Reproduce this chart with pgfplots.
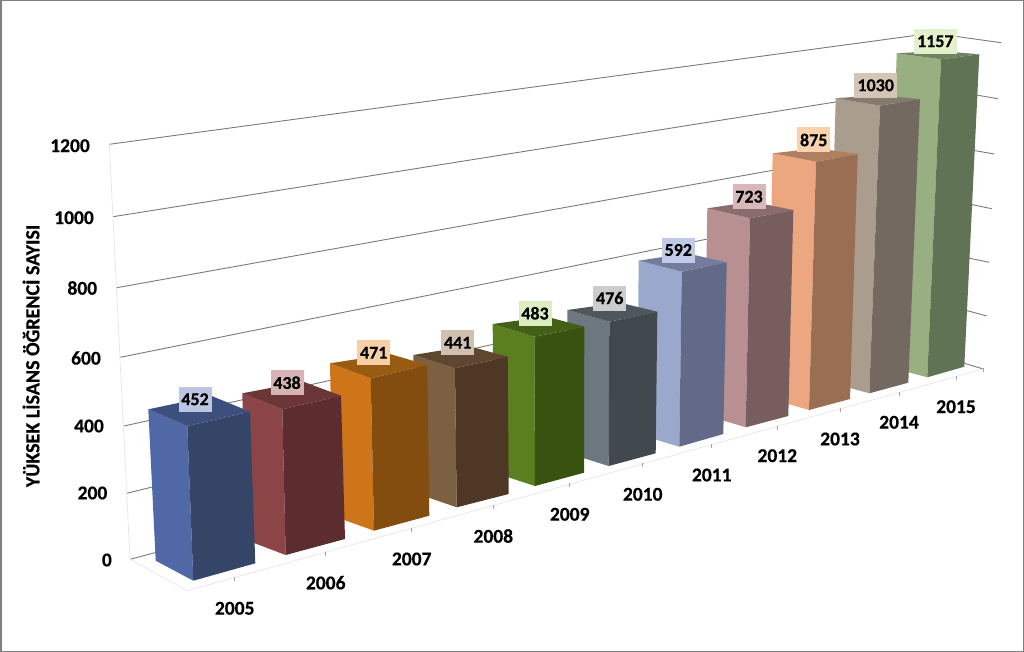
\documentclass[border=0pt]{standalone}
\usepackage{fontspec}
\setmainfont[BoldFeatures={FakeBold=0.5}]{Carlito}
\usepackage{xcolor}
\usepackage{pgfplots}
\pgfplotsset{compat=1.18}

% left, front, top face and value label colour of each year
\definecolor{l15}{HTML}{97AF81}\definecolor{f15}{HTML}{607355}\definecolor{t15}{HTML}{6E8360}\definecolor{v15}{HTML}{E3F0CC}
\definecolor{l14}{HTML}{AB9D8D}\definecolor{f14}{HTML}{746960}\definecolor{t14}{HTML}{867A6F}\definecolor{v14}{HTML}{D4C6B6}
\definecolor{l13}{HTML}{EDA780}\definecolor{f13}{HTML}{9A6E52}\definecolor{t13}{HTML}{B07F60}\definecolor{v13}{HTML}{F9D2AE}
\definecolor{l12}{HTML}{B89092}\definecolor{f12}{HTML}{785D5E}\definecolor{t12}{HTML}{8A6C6D}\definecolor{v12}{HTML}{D9B8BA}
\definecolor{l11}{HTML}{9AA8CE}\definecolor{f11}{HTML}{626A87}\definecolor{t11}{HTML}{737C9D}\definecolor{v11}{HTML}{C1CAE6}
\definecolor{l10}{HTML}{6C7780}\definecolor{f10}{HTML}{42494E}\definecolor{t10}{HTML}{4F575D}\definecolor{v10}{HTML}{CCCCCC}
\definecolor{l09}{HTML}{5A7F1E}\definecolor{f09}{HTML}{385210}\definecolor{t09}{HTML}{436016}\definecolor{v09}{HTML}{DDEDC3}
\definecolor{l08}{HTML}{7B6041}\definecolor{f08}{HTML}{4E3825}\definecolor{t08}{HTML}{5F4630}\definecolor{v08}{HTML}{CFC0AF}
\definecolor{l07}{HTML}{CE7519}\definecolor{f07}{HTML}{834D10}\definecolor{t07}{HTML}{995A12}\definecolor{v07}{HTML}{F5CFA6}
\definecolor{l06}{HTML}{8C4547}\definecolor{f06}{HTML}{5C2C2E}\definecolor{t06}{HTML}{6B3638}\definecolor{v06}{HTML}{D6B4B5}
\definecolor{l05}{HTML}{5069A6}\definecolor{f05}{HTML}{354568}\definecolor{t05}{HTML}{3D4F7C}\definecolor{v05}{HTML}{BCC6E3}

% one face of a 3D bar (picture coordinates)
\newcommand{\face}[2]{\addplot[fill=#1,draw=none,forget plot] coordinates {#2} --cycle;}
\newcommand{\gridline}[1]{\addplot[color=black!52,line width=0.9pt,forget plot] coordinates {#1};}
\newcommand{\lightline}[1]{\addplot[color=black!9,line width=0.8pt,forget plot] coordinates {#1};}
\newcommand{\ticklet}[1]{\addplot[color=black!35,line width=0.8pt,forget plot] coordinates {#1};}
% text at a data point
\newcommand{\lab}[5]{\addplot[draw=none,forget plot,nodes near coords,point meta=explicit symbolic,
  every node near coord/.style={anchor=#1,fill=#2,inner sep=0pt,text=black,
    font=\fontsize{#3}{#3}\selectfont\bfseries,minimum width=#4,minimum height=25pt}] coordinates {#5};}

\begin{document}
\begin{tikzpicture}
\begin{axis}[
  scale only axis, width=1024pt, height=652pt,
  xmin=0, xmax=1024, ymin=0, ymax=652, y dir=reverse,
  xtick=\empty, ytick=\empty,
  axis line style={color=black!50,line width=3pt},
  clip=false,
]
% back wall
\gridline{(109.3,144.3) (932.6,33.1) (1001,42.7)}
\gridline{(113,216.7) (930,87) (997.7,98.7)}
\gridline{(116.7,287.7) (928,142.5) (994.3,154)}
\gridline{(120.3,357.3) (926,195) (991.7,208.7)}
\gridline{(124,426) (924,249) (989.3,262.3)}
\gridline{(126.7,493.3) (921,298) (986.7,316)}
\gridline{(130,559.3) (920,350) (983.3,369)}
\lightline{(109.3,144.3) (130,559.3)}
\lightline{(130,559.3) (187.3,590.7)}
\lightline{(187.3,590.7) (983.3,369)}
% floor ticks
\ticklet{(234.7,577) (234.7,581)}
\ticklet{(325.7,552) (325.7,556)}
\ticklet{(411.7,528) (411.7,532)}
\ticklet{(493.3,505) (493.3,509)}
\ticklet{(569.3,483) (569.3,487)}
\ticklet{(642.7,463) (642.7,467)}
\ticklet{(711.7,444) (711.7,448)}
\ticklet{(777.3,426) (777.3,430)}
\ticklet{(840,408) (840,412)}
\ticklet{(899,392) (899,396)}
\ticklet{(956,376) (956,380)}
\ticklet{(983,368) (983,372)}
% bars, back to front
% 2015
\face{l15}{(896.7,53.3) (941,59.3) (927.3,377.3) (887,366.5)}
\face{f15}{(941,59.3) (979.3,54.3) (964.3,366.7) (927.3,377.3)}
\face{t15}{(896.7,53.3) (940,51) (979.3,54.3) (941,59.3)}
% 2014
\face{l14}{(835.7,98.3) (880,105.7) (869.3,393.3) (828,382)}
\face{f14}{(880,105.7) (920,99) (908.3,382.7) (869.3,393.3)}
\face{t14}{(835.7,98.3) (878.3,95) (920,99) (880,105.7)}
% 2013
\face{l13}{(772.7,153.3) (816,161.7) (809,410) (767,398)}
\face{f13}{(816,161.7) (857.7,154) (850,399) (809,410)}
\face{t13}{(772.7,153.3) (816.7,148.3) (857.7,154) (816,161.7)}
% 2012
\face{l12}{(707.3,208.3) (750,218.3) (745.7,427.3) (704,414.7)}
\face{f12}{(750,218.3) (793.3,210) (788.3,416) (745.7,427.3)}
\face{t12}{(707.3,208.3) (751.7,201.7) (793.3,210) (750,218.3)}
% 2011
\face{l11}{(638.7,260.7) (681.7,271.7) (679.3,446.7) (637,434)}
\face{f11}{(681.7,271.7) (726.7,262.3) (723.3,434) (679.3,446.7)}
\face{t11}{(638.7,260.7) (686.7,253.3) (726.7,262.3) (681.7,271.7)}
% 2010
\face{l10}{(567.3,310) (609.3,321.7) (608.7,466) (567,453)}
\face{f10}{(609.3,321.7) (657.3,311.7) (655.7,453.3) (608.7,466)}
\face{t10}{(567.3,310) (620,302.7) (657.3,311.7) (609.3,321.7)}
% 2009
\face{l09}{(492.7,324) (534.3,336.7) (535,486) (493.5,472.5)}
\face{f09}{(534.3,336.7) (584.3,326.7) (584,472.7) (535,486)}
\face{t09}{(492.7,324) (546.7,316.7) (584.3,326.7) (534.3,336.7)}
% 2008
\face{l08}{(413.3,355) (455,368.3) (456.7,507.3) (415,493)}
\face{f08}{(455,368.3) (507.7,356.7) (508.7,494) (456.7,507.3)}
\face{t08}{(413.3,355) (468.3,346) (507.7,356.7) (455,368.3)}
% 2007
\face{l07}{(330,363.3) (370.7,378.3) (374,530.7) (333,516)}
\face{f07}{(370.7,378.3) (427.3,365) (429.3,515.7) (374,530.7)}
\face{t07}{(330,363.3) (390,354) (427.3,365) (370.7,378.3)}
% 2006
\face{l06}{(242.3,393.3) (282.3,409.3) (285.7,555) (246,540)}
\face{f06}{(282.3,409.3) (341,395.7) (345,539) (285.7,555)}
\face{t06}{(242.3,393.3) (303.3,381.7) (341,395.7) (282.3,409.3)}
% 2005
\face{l05}{(148.3,409.3) (187.3,426) (193.3,580.7) (155.7,560.7)}
\face{f05}{(187.3,426) (250,411.7) (255.3,563.3) (193.3,580.7)}
\face{t05}{(148.3,409.3) (211.7,396) (250,411.7) (187.3,426)}
% value labels
\lab{center}{v05}{18}{33pt}{(195,399.3)[452]}
\lab{center}{v06}{18}{33pt}{(287,382.7)[438]}
\lab{center}{v07}{18}{33pt}{(373.7,352.7)[471]}
\lab{center}{v08}{18}{33pt}{(457.7,342.7)[441]}
\lab{center}{v09}{18}{33pt}{(535,313.3)[483]}
\lab{center}{v10}{18}{33pt}{(609.7,298)[476]}
\lab{center}{v11}{18}{33pt}{(678.3,250)[592]}
\lab{center}{v12}{18}{33pt}{(749,196.7)[723]}
\lab{center}{v13}{18}{33pt}{(813.7,140)[875]}
\lab{center}{v14}{18}{43pt}{(875.7,85.3)[1030]}
\lab{center}{v15}{18}{43pt}{(935.3,41.3)[1157]}
% year labels
\lab{center}{none}{19.5}{1pt}{(234.7,608.3)[2005] (325.7,582.7)[2006] (411.7,559)[2007] (493.3,536)[2008] (569.7,514.3)[2009] (642.7,494.3)[2010] (711.7,475)[2011] (777.3,455.7)[2012] (840,439)[2013] (899,422.3)[2014] (956,406.7)[2015]}
% value axis labels
\lab{east}{none}{19.5}{1pt}{(90,145.7)[1200] (94,217.7)[1000] (97.3,288)[800] (101,358)[600] (104,426)[400] (107.5,493)[200] (112,560)[0]}
\node[rotate=90,font=\fontsize{20}{20}\selectfont\bfseries] at (axis cs:31,356) {YÜKSEK LİSANS ÖĞRENCİ SAYISI};
\end{axis}
\pgfresetboundingbox
\useasboundingbox (current axis.south west) rectangle (current axis.north east);
\end{tikzpicture}
\end{document}
